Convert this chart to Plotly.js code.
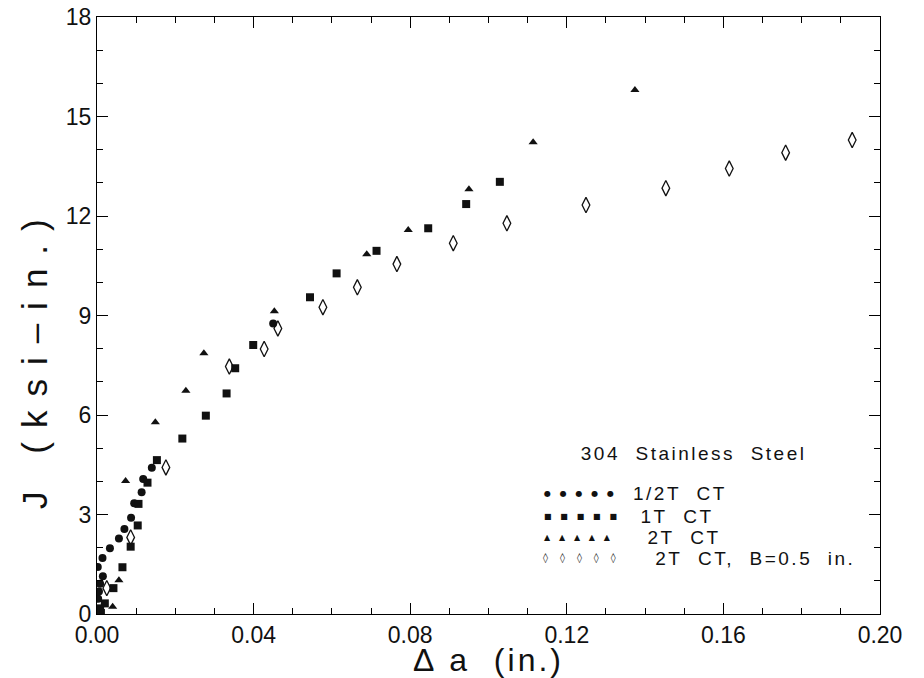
<!DOCTYPE html>
<html><head><meta charset="utf-8">
<script src="https://cdn.plot.ly/plotly-3.0.1.min.js"></script>
<style>
html,body{margin:0;padding:0;background:#fff}
#chart{width:924px;height:678px}
.xtitle{letter-spacing:3px}
.annotation[data-index="0"] text{letter-spacing:14px}
.annotation[data-index="1"] text,
.annotation[data-index="2"] text,
.annotation[data-index="3"] text,
.annotation[data-index="4"] text,
.annotation[data-index="5"] text{letter-spacing:2.5px}
</style>
</head><body><div id="chart"></div>
<script>
const halfT_x = [0.0000,0.0003,0.0005,0.0008,0.0015,0.0002,0.0014,0.0033,0.0056,0.0070,0.0087,0.0095,0.0114,0.0118,0.0140,0.0450];
const halfT_y = [0.05,0.46,0.68,0.91,1.14,1.42,1.69,1.98,2.28,2.56,2.90,3.34,3.67,4.07,4.41,8.76];
const oneT_x = [0.0005,0.0008,0.0010,0.0020,0.0042,0.0065,0.0086,0.0104,0.0106,0.0129,0.0153,0.0218,0.0278,0.0331,0.0353,0.0399,0.0544,0.0612,0.0714,0.0846,0.0943,0.1029];
const oneT_y = [0.10,0.17,0.03,0.32,0.78,1.41,2.03,2.67,3.32,3.96,4.64,5.29,5.98,6.65,7.41,8.11,9.55,10.27,10.95,11.63,12.36,13.03];
const twoT_x = [0.0040,0.0056,0.0073,0.0149,0.0227,0.0273,0.0453,0.0689,0.0795,0.0950,0.1114,0.1374];
const twoT_y = [0.22,1.02,4.01,5.78,6.73,7.86,9.13,10.85,11.58,12.81,14.22,15.80];
const twoTB_x = [0.0025,0.0086,0.0176,0.0338,0.0427,0.0462,0.0577,0.0665,0.0766,0.0910,0.1047,0.1249,0.1453,0.1615,0.1759,0.1929];
const twoTB_y = [0.78,2.31,4.42,7.46,7.99,8.61,9.25,9.85,10.55,11.18,11.78,12.33,12.84,13.43,13.91,14.29];
const seriesNames = ["1/2T\u00a0\u00a0CT","1T\u00a0\u00a0CT","2T\u00a0\u00a0CT","2T\u00a0\u00a0CT,\u00a0\u00a0B=0.5\u00a0\u00a0in."];
const legendGlyphs = ["\u25CF","\u25A0","\u25B2","\u25CA"];
const legendTitle = "304\u00a0\u00a0Stainless\u00a0\u00a0Steel";
const xTitle = "\u0394\u00a0a\u00a0\u00a0(in.)";
const yTitle = "J\u00a0(ksi\u2013in.)";

const FONT = "Liberation Sans, Arial, sans-serif";
const traces = [
  {x: halfT_x, y: halfT_y, name: seriesNames[0], mode:'markers', type:'scatter',
   marker:{symbol:'circle', size:8, color:'#111', line:{color:'#111', width:0}}},
  {x: oneT_x, y: oneT_y, name: seriesNames[1], mode:'markers', type:'scatter',
   marker:{symbol:'square', size:8, color:'#111'}},
  {x: twoT_x, y: twoT_y, name: seriesNames[2], mode:'markers', type:'scatter',
   marker:{symbol:'triangle-up', size:8, color:'#111'}},
  {x: twoTB_x, y: twoTB_y, name: seriesNames[3], mode:'markers', type:'scatter',
   marker:{symbol:'diamond-tall-open', size:11, color:'#111', line:{color:'#111', width:1.3}}}
];
const axisCommon = {
  showgrid:false, zeroline:false, showline:true, linecolor:'#000', linewidth:1,
  mirror:'ticks', ticks:'inside', ticklen:11, tickwidth:1, tickcolor:'#000',
  tickfont:{family:FONT, size:23, color:'#111'}
};
// legend block drawn as text annotations (pixel positions converted to paper fractions)
const px = v => (v-97)/783, py = v => (614-v)/597;
const rowYpx = [493,516,537,558];
const rowCenterPx = [680,677,684,755];
const glyphSep = ['\u2003\u200A','\u2003\u200A','\u2003\u200A','\u2003\u2009'];
const glyphSize = [8,8,8,10];
const glyphLeft = [542,542,542,541];
const annotations = [
  {xref:'paper', yref:'paper', x:px(35), y:py(357), text:yTitle, textangle:-90,
   showarrow:false, xanchor:'center', yanchor:'middle', font:{family:FONT, size:35, color:'#111'}},
  {xref:'paper', yref:'paper', x:px(693), y:py(453), text:legendTitle, showarrow:false,
   xanchor:'center', yanchor:'middle', font:{family:FONT, size:19, color:'#111'}}
];
for (let i = 0; i < seriesNames.length; i++) {
  annotations.push({xref:'paper', yref:'paper', x:px(rowCenterPx[i]), y:py(rowYpx[i]),
    text:seriesNames[i], showarrow:false, xanchor:'center', yanchor:'middle',
    font:{family:FONT, size:19, color:'#111'}});
}
for (let i = 0; i < legendGlyphs.length; i++) {
  const g = legendGlyphs[i];
  annotations.push({xref:'paper', yref:'paper', x:px(glyphLeft[i]), y:py(rowYpx[i]),
    text:[g,g,g,g,g].join(glyphSep[i]), showarrow:false, xanchor:'left', yanchor:'middle',
    font:{family:'DejaVu Sans, sans-serif', size:glyphSize[i], color:'#111'}});
}
const layout = {
  width:924, height:678,
  margin:{l:97, r:44, t:17, b:64},
  paper_bgcolor:'#fff', plot_bgcolor:'#fff',
  font:{family:FONT, color:'#111'},
  xaxis: Object.assign({}, axisCommon, {
    range:[0,0.2], tick0:0, dtick:0.04, tickformat:'.2f',
    minor:{dtick:0.01, ticks:'inside', ticklen:6, tickcolor:'#000', showgrid:false},
    title:{text:xTitle, font:{family:FONT, size:32, color:'#111'}, standoff:0}
  }),
  yaxis: Object.assign({}, axisCommon, {
    range:[0,18], tick0:0, dtick:3,
    minor:{dtick:1, ticks:'inside', ticklen:6, tickcolor:'#000', showgrid:false}
  }),
  showlegend:false,
  annotations: annotations
};
Plotly.newPlot('chart', traces, layout, {staticPlot:true, displayModeBar:false});
</script></body></html>
